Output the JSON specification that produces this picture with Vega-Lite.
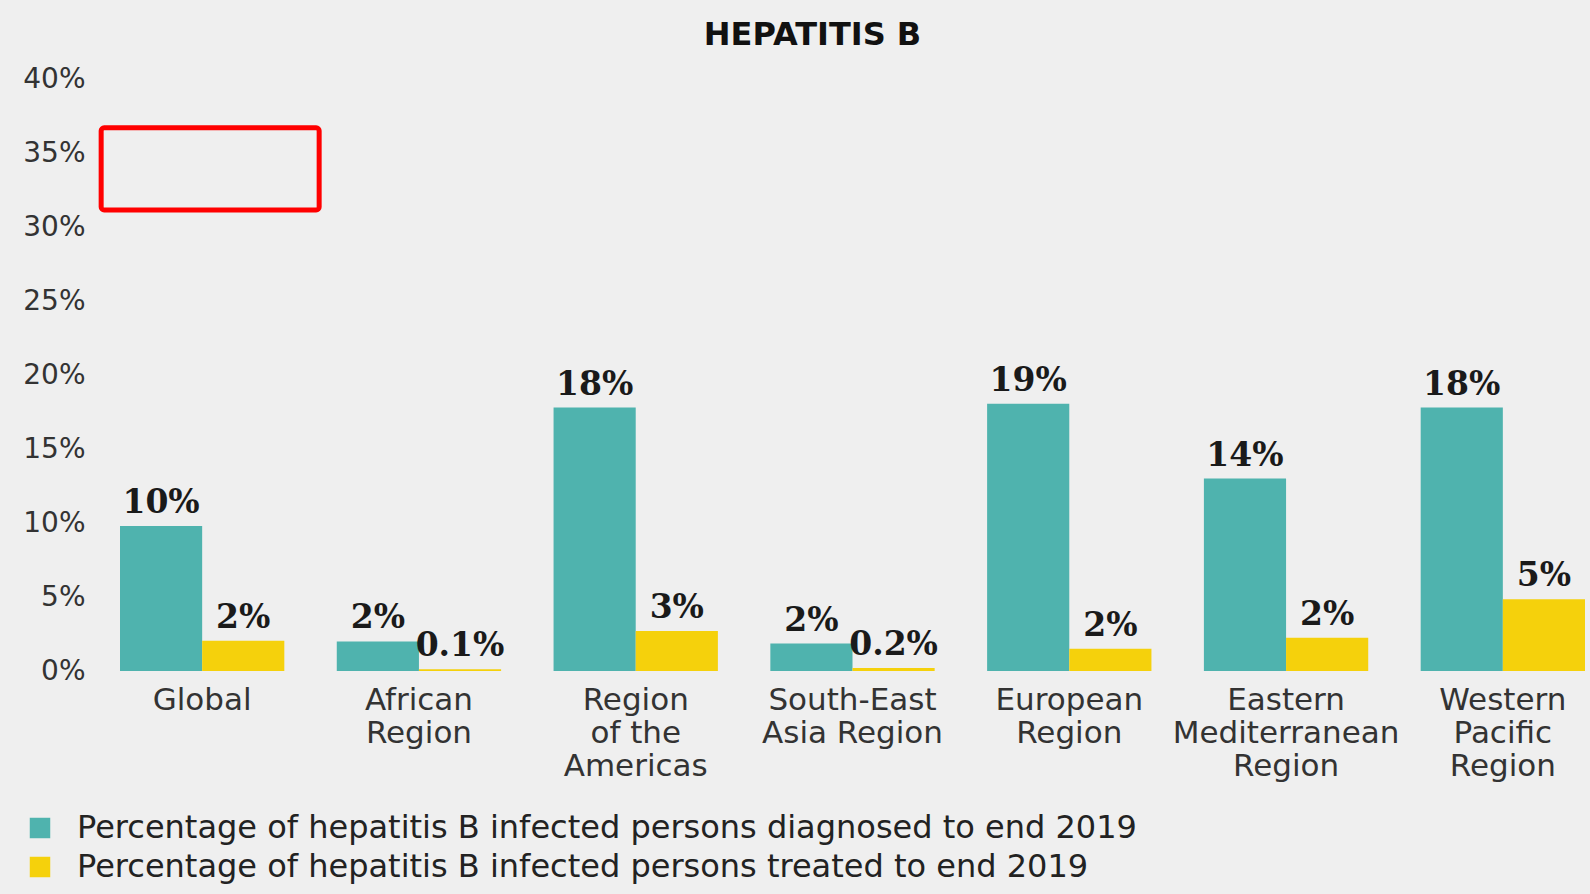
{
  "$schema": "https://vega.github.io/schema/vega-lite/v6.json",
  "width": 1465,
  "height": 592,
  "autosize": {"type": "none"},
  "padding": {"left": 120, "top": 79, "right": 5, "bottom": 223},
  "background": "#efefef",
  "title": {"text": "HEPATITIS B", "fontSize": 32, "font": "DejaVu Sans", "fontWeight": "bold", "color": "#111111", "offset": 13, "dx": -40, "anchor": "middle"},
  "datasets": {
    "bars": [
      {"region": "Global", "series": "Percentage of hepatitis B infected persons diagnosed to end 2019", "value": 9.8, "label": "10%"},
      {"region": "Global", "series": "Percentage of hepatitis B infected persons treated to end 2019", "value": 2.05, "label": "2%"},
      {"region": "African Region", "series": "Percentage of hepatitis B infected persons diagnosed to end 2019", "value": 2.0, "label": "2%"},
      {"region": "African Region", "series": "Percentage of hepatitis B infected persons treated to end 2019", "value": 0.12, "label": "0.1%"},
      {"region": "Region of the Americas", "series": "Percentage of hepatitis B infected persons diagnosed to end 2019", "value": 17.8, "label": "18%"},
      {"region": "Region of the Americas", "series": "Percentage of hepatitis B infected persons treated to end 2019", "value": 2.7, "label": "3%"},
      {"region": "South-East Asia Region", "series": "Percentage of hepatitis B infected persons diagnosed to end 2019", "value": 1.85, "label": "2%"},
      {"region": "South-East Asia Region", "series": "Percentage of hepatitis B infected persons treated to end 2019", "value": 0.2, "label": "0.2%"},
      {"region": "European Region", "series": "Percentage of hepatitis B infected persons diagnosed to end 2019", "value": 18.05, "label": "19%"},
      {"region": "European Region", "series": "Percentage of hepatitis B infected persons treated to end 2019", "value": 1.5, "label": "2%"},
      {"region": "Eastern Mediterranean Region", "series": "Percentage of hepatitis B infected persons diagnosed to end 2019", "value": 13.0, "label": "14%"},
      {"region": "Eastern Mediterranean Region", "series": "Percentage of hepatitis B infected persons treated to end 2019", "value": 2.25, "label": "2%"},
      {"region": "Western Pacific Region", "series": "Percentage of hepatitis B infected persons diagnosed to end 2019", "value": 17.8, "label": "18%"},
      {"region": "Western Pacific Region", "series": "Percentage of hepatitis B infected persons treated to end 2019", "value": 4.85, "label": "5%"}
    ],
    "box": [
      {"region": "Global", "low": 31.15, "high": 36.7}
    ]
  },
  "encoding": {
    "x": {
      "field": "region",
      "type": "nominal",
      "sort": null,
      "title": null,
      "scale": {"paddingInner": 0.242, "paddingOuter": 0},
      "axis": {
        "labelExpr": "datum.value == 'Global' ? 'Global' : datum.value == 'African Region' ? ['African','Region'] : datum.value == 'Region of the Americas' ? ['Region','of the','Americas'] : datum.value == 'South-East Asia Region' ? ['South-East','Asia Region'] : datum.value == 'European Region' ? ['European','Region'] : datum.value == 'Eastern Mediterranean Region' ? ['Eastern','Mediterranean','Region'] : ['Western','Pacific','Region']"
      }
    }
  },
  "layer": [
    {
      "data": {"name": "bars"},
      "mark": {"type": "bar"},
      "encoding": {
        "xOffset": {"field": "series", "type": "nominal", "sort": null, "scale": {"paddingInner": 0, "paddingOuter": 0}},
        "y": {
          "field": "value",
          "type": "quantitative",
          "title": null,
          "scale": {"domain": [0, 40]},
          "axis": {"values": [0, 5, 10, 15, 20, 25, 30, 35, 40]}
        },
        "color": {
          "field": "series",
          "type": "nominal",
          "sort": null,
          "scale": {"range": ["#4fb3ae", "#f5d10c"]},
          "legend": {
            "title": null,
            "orient": "none",
            "legendX": -96,
            "legendY": 733,
            "direction": "vertical",
            "symbolType": "square",
            "symbolSize": 420,
            "symbolStrokeWidth": 0,
            "labelFont": "DejaVu Sans",
            "labelFontSize": 32,
            "labelColor": "#222222",
            "labelOffset": 21,
            "rowPadding": 7,
            "labelLimit": 1500
          }
        }
      }
    },
    {
      "data": {"name": "bars"},
      "mark": {"type": "text", "font": "DejaVu Serif", "fontWeight": "bold", "fontSize": 33, "color": "#1a1a1a", "baseline": "alphabetic", "dy": -13},
      "encoding": {
        "xOffset": {"field": "series", "type": "nominal", "sort": null},
        "y": {"field": "value", "type": "quantitative", "title": null},
        "text": {"field": "label"}
      }
    },
    {
      "data": {"name": "box"},
      "mark": {"type": "bar", "width": 218, "xOffset": 8, "fillOpacity": 0, "stroke": "#ff0000", "strokeWidth": 5, "cornerRadius": 3},
      "encoding": {
        "y": {"field": "low", "type": "quantitative", "title": null},
        "y2": {"field": "high"}
      }
    }
  ],
  "config": {
    "view": {"stroke": null},
    "axisX": {
      "labelFont": "DejaVu Sans",
      "labelFontSize": 31,
      "labelColor": "#333333",
      "labelLineHeight": 33,
      "labelPadding": 14,
      "labelAngle": 0,
      "labelLimit": 400,
      "ticks": false,
      "domain": false,
      "grid": false
    },
    "axisY": {
      "labelFont": "DejaVu Sans",
      "labelFontSize": 28,
      "labelColor": "#333333",
      "labelPadding": 35,
      "labelExpr": "datum.value + '%'",
      "ticks": false,
      "domain": false,
      "grid": false
    }
  }
}
